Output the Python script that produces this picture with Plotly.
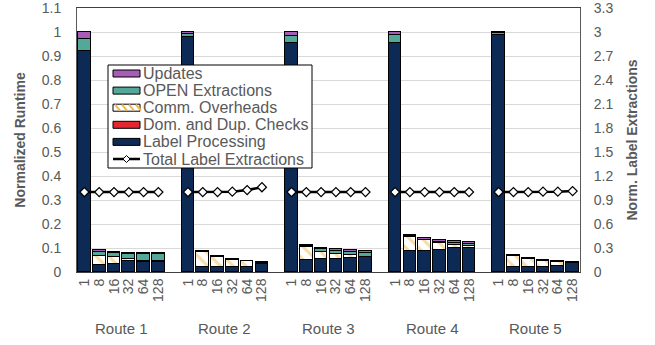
import plotly.graph_objects as go

routes = ["Route 1", "Route 2", "Route 3", "Route 4", "Route 5"]
threads = ["1", "8", "16", "32", "64", "128"]

label_processing = [
    [0.920, 0.028, 0.033, 0.045, 0.042, 0.042],
    [0.978, 0.020, 0.020, 0.020, 0.020, 0.035],
    [0.955, 0.052, 0.055, 0.055, 0.058, 0.062],
    [0.955, 0.087, 0.088, 0.092, 0.099, 0.100],
    [0.990, 0.022, 0.022, 0.022, 0.025, 0.036],
]
dom_dup_checks = [
    [0, 0, 0, 0, 0, 0],
    [0, 0, 0, 0, 0, 0],
    [0, 0, 0, 0, 0, 0],
    [0, 0, 0, 0, 0, 0],
    [0, 0, 0, 0, 0, 0],
]
comm_overheads = [
    [0, 0.040, 0.028, 0.010, 0.003, 0.002],
    [0, 0.063, 0.044, 0.031, 0.024, 0.004],
    [0, 0.053, 0.030, 0.020, 0.012, 0.002],
    [0, 0.060, 0.045, 0.030, 0.013, 0.008],
    [0, 0.044, 0.033, 0.025, 0.016, 0.003],
]
open_extractions = [
    [0.050, 0.017, 0.018, 0.020, 0.028, 0.029],
    [0.013, 0, 0, 0, 0, 0],
    [0.030, 0.002, 0.010, 0.012, 0.014, 0.017],
    [0.035, 0.002, 0, 0.004, 0.010, 0.010],
    [0.005, 0, 0, 0, 0, 0],
]
updates = [
    [0.030, 0.008, 0.005, 0.006, 0.006, 0.006],
    [0.009, 0.004, 0.003, 0.003, 0.003, 0.003],
    [0.015, 0.007, 0.007, 0.007, 0.007, 0.006],
    [0.010, 0.005, 0.008, 0.007, 0.007, 0.006],
    [0.005, 0.004, 0.003, 0.003, 0.003, 0.003],
]
label_extractions = [
    [1.0, 1.0, 1.0, 1.0, 1.0, 1.0],
    [1.0, 1.0, 1.0, 1.005, 1.025, 1.06],
    [1.0, 1.0, 1.0, 1.0, 1.0, 1.0],
    [1.0, 1.0, 1.0, 1.0, 1.0, 1.0],
    [1.0, 1.0, 1.0, 1.005, 1.005, 1.012],
]
left_ticks = ["0", "0.1", "0.2", "0.3", "0.4", "0.5", "0.6", "0.7", "0.8", "0.9", "1", "1.1"]
right_ticks = ["0", "0.3", "0.6", "0.9", "1.2", "1.5", "1.8", "2.1", "2.4", "2.7", "3", "3.3"]

# ---------------- layout constants ----------------
W, H = 655, 345
ML, MR, MT, MB = 77, 75, 8, 73
PW, PH = W - ML - MR, H - MT - MB

def px(x):  # pixel -> paper x
    return (x - ML) / PW

def py(y):  # pixel -> paper y
    return (H - MB - y) / PH

GRAY = "#595959"
FONT = "Liberation Sans, Arial, sans-serif"
C_LP, C_DOM, C_COMM, C_OPEN, C_UPD = "#0C2A54", "#E3262F", "#F2B950", "#52A99A", "#A55DB5"
outline = dict(color="black", width=1)
BW = 0.86
EPS = 1.0005  # tiny headroom so the top tick label is kept

GAP = len(threads) + 1
xs, ticktext = [], []
for g in range(len(routes)):
    for i, t in enumerate(threads):
        xs.append(g * GAP + i)
        ticktext.append(t)

def flat(a):
    return [v for row in a for v in row]

lx, ly = [], []
for g in range(len(routes)):
    for i in range(len(threads)):
        lx.append(g * GAP + i)
        ly.append(label_extractions[g][i])
    lx.append(None)
    ly.append(None)

series = [
    ("Label Processing", label_processing, dict(color=C_LP, line=outline)),
    ("Dom. and Dup. Checks", dom_dup_checks, dict(color=C_DOM, line=outline)),
    ("Comm. Overheads", comm_overheads,
     dict(color="white", line=outline,
          pattern=dict(shape="\\", fgcolor=C_COMM, bgcolor="white", size=9,
                       solidity=0.35, fillmode="overlay"))),
    ("OPEN Extractions", open_extractions, dict(color=C_OPEN, line=outline)),
    ("Updates", updates, dict(color=C_UPD, line=outline)),
]

fig = go.Figure()
for name, vals, mk in series:
    fig.add_trace(go.Bar(x=xs, y=flat(vals), name=name, marker=mk, width=BW, showlegend=False))
fig.add_trace(go.Scatter(x=lx, y=ly, yaxis="y2", name="Total Label Extractions",
                         mode="lines+markers", connectgaps=False, showlegend=False,
                         line=dict(color="black", width=2.5),
                         marker=dict(symbol="diamond", size=7, color="white",
                                     line=dict(color="black", width=1.2))))

annotations = []
for g, r in enumerate(routes):
    annotations.append(dict(x=g * GAP + (len(threads) - 1) / 2, y=py(328), xref="x", yref="paper",
                            text=r, showarrow=False, yanchor="middle",
                            font=dict(size=15, color=GRAY, family=FONT)))

# ---------------- hand-drawn legend (box, symbols, text) ----------------
shapes = []
LX0, LX1, LY0, LY1 = 108, 312, 65, 168
shapes.append(dict(type="rect", xref="paper", yref="paper", layer="above",
                   x0=px(LX0), x1=px(LX1), y0=py(LY1), y1=py(LY0),
                   fillcolor="white", line=dict(color="black", width=1)))
legend_items = [
    ("Updates", C_UPD, "rect"),
    ("OPEN Extractions", C_OPEN, "rect"),
    ("Comm. Overheads", "white", "hatch"),
    ("Dom. and Dup. Checks", C_DOM, "rect"),
    ("Label Processing", C_LP, "rect"),
    ("Total Label Extractions", None, "line"),
]
SX0, SX1, ROW0, ROWH = 113, 140, 73.5, 17.1
for k, (label, col, kind) in enumerate(legend_items):
    cy = ROW0 + k * ROWH
    if kind in ("rect", "hatch"):
        shapes.append(dict(type="rect", xref="paper", yref="paper", layer="above",
                           x0=px(SX0), x1=px(SX1), y0=py(cy + 3.5), y1=py(cy - 3.5),
                           fillcolor=col, line=dict(color="black", width=1)))
        if kind == "hatch":
            for s in range(4):
                xa = SX0 + 2 + s * 7
                shapes.append(dict(type="line", xref="paper", yref="paper", layer="above",
                                   x0=px(xa), y0=py(cy - 3), x1=px(xa + 5), y1=py(cy + 3),
                                   line=dict(color=C_COMM, width=2)))
    else:
        shapes.append(dict(type="line", xref="paper", yref="paper", layer="above",
                           x0=px(SX0), x1=px(SX1), y0=py(cy), y1=py(cy),
                           line=dict(color="black", width=2.5)))
        mx, d = (SX0 + SX1) / 2, 3.5
        path = "M {} {} L {} {} L {} {} L {} {} Z".format(
            px(mx - d), py(cy), px(mx), py(cy - d), px(mx + d), py(cy), px(mx), py(cy + d))
        shapes.append(dict(type="path", xref="paper", yref="paper", layer="above", path=path,
                           fillcolor="white", line=dict(color="black", width=1)))
    annotations.append(dict(x=px(SX1 + 1.5), y=py(cy), xref="paper", yref="paper",
                            xanchor="left", yanchor="middle", showarrow=False, text=label,
                            borderpad=0, font=dict(size=16, color=GRAY, family=FONT)))

fig.update_layout(
    width=W, height=H,
    margin=dict(l=ML, r=MR, t=MT, b=MB, autoexpand=False),
    barmode="stack", bargap=0,
    plot_bgcolor="white", paper_bgcolor="white",
    font=dict(family=FONT, color=GRAY, size=12),
    showlegend=False,
    xaxis=dict(range=[-0.5, xs[-1] + 0.5], tickmode="array", tickvals=xs, ticktext=ticktext,
               tickangle=-90, tickfont=dict(size=14, color=GRAY), showgrid=False,
               automargin=False,
               showline=True, linecolor="#404040", linewidth=1, mirror=True, ticks=""),
    yaxis=dict(range=[0, float(left_ticks[-1]) * EPS], tickmode="array",
               tickvals=[float(t) for t in left_ticks], ticktext=left_ticks,
               showgrid=True, gridcolor="#D9D9D9", automargin=False,
               gridwidth=1, tickfont=dict(size=14, color=GRAY), zeroline=False,
               showline=True, linecolor="#595959", linewidth=1, ticks="",
               ticklabelstandoff=12,
               title=dict(text="<b>Normalized Runtime</b>", font=dict(size=14, color=GRAY),
                          standoff=12)),
    yaxis2=dict(range=[0, float(right_ticks[-1]) * EPS], tickmode="array",
                tickvals=[float(t) for t in right_ticks], ticktext=right_ticks,
                overlaying="y", side="right", automargin=False,
                showgrid=False, zeroline=False, tickfont=dict(size=14, color=GRAY),
                showline=True, linecolor="#595959", linewidth=1, ticks="",
                ticklabelstandoff=10,
                title=dict(text="<b>Norm. Label Extractions</b>", font=dict(size=14, color=GRAY),
                           standoff=14)),
    annotations=annotations,
    shapes=shapes,
)

fig.write_html("out.html")
